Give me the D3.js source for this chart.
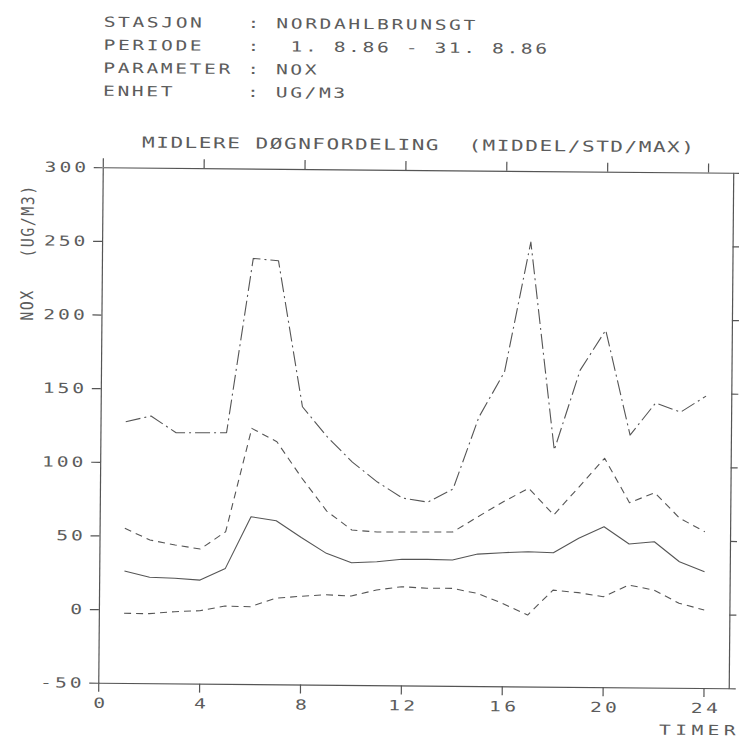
<!DOCTYPE html>
<html>
<head>
<meta charset="utf-8">
<script src="https://cdn.jsdelivr.net/npm/d3@7"></script>
<style>
  html, body { margin: 0; padding: 0; background: #fff; }
  svg { display: block; }
</style>
</head>
<body>
<svg id="chart" width="739" height="740"></svg>
<script>
// Hour of day (1..24) and the hourly NOx statistics in ug/m3
const timer = [1, 2, 3, 4, 5, 6, 7, 8, 9, 10, 11, 12, 13, 14, 15, 16, 17, 18, 19, 20, 21, 22, 23, 24];
const maks = [127.4, 131.4, 120.2, 120.3, 120.5, 239.0, 237.6, 138.6, 118.2, 101.3, 87.9, 77.2,
              74.6, 83.6, 132.6, 163.4, 251.8, 110.7, 165.1, 192.4, 121.3, 143.2, 137.2, 148.2];
const middelPlussStd = [55.0, 47.2, 44.0, 41.4, 53.3, 123.6, 114.7, 90.2, 67.9, 55.2, 54.0, 54.1,
                        54.3, 54.4, 65.0, 75.3, 84.6, 66.6, 85.9, 105.4, 75.4, 82.3, 65.1, 56.1];
const middel = [26.0, 21.9, 21.4, 20.3, 28.4, 63.6, 61.0, 49.8, 39.2, 33.0, 33.8, 35.6,
                35.7, 35.4, 39.6, 40.7, 41.5, 41.0, 50.9, 58.9, 47.3, 49.0, 35.6, 29.0];
const middelMinusStd = [-2.7, -2.8, -1.3, -0.5, 2.8, 2.5, 8.4, 9.9, 11.1, 10.4, 14.6, 17.0,
                        16.1, 16.2, 12.9, 6.3, -1.5, 15.6, 14.0, 11.4, 19.5, 16.2, 7.4, 3.0];

// Axis ticks and labels
const xTicks = [0, 4, 8, 12, 16, 20, 24];
const yTicks = [-50, 0, 50, 100, 150, 200, 250, 300];
const headerLabels = ["STASJON", "PERIODE", "PARAMETER", "ENHET"];
const headerValues = ["NORDAHLBRUNSGT", " 1. 8.86 - 31. 8.86", "NOX", "UG/M3"];
const title = "MIDLERE DØGNFORDELING  (MIDDEL/STD/MAX)";
const yTitle = "NOX   (UG/M3)";
const xTitle = "TIMER";

const ink = "#555";
const textInk = "#5c5c5c";
const svg = d3.select("#chart");
svg.append("rect").attr("width", 739).attr("height", 740).attr("fill", "#fff");

// the plotter sheet sits very slightly turned
const root = svg.append("g").attr("transform", "rotate(0.5 415 427)");

const plot = { left: 100.5, right: 731, top: 170, bottom: 685.5 };
const x = d3.scaleLinear().domain([0, 25]).range([plot.left, plot.right]);
const y = d3.scaleLinear().domain([-50, 300]).range([plot.bottom, plot.top]);

// Monospaced plotter lettering with a fixed character pitch
function plotText(parent, str, pos, baseline, opts = {}) {
  const size = opts.size || 14, sx = opts.sx || 1.4, pitch = opts.pitch || 14.4;
  const align = opts.align || "left", rot = opts.rotate || 0;
  const ls = pitch / sx - 0.602 * size;
  const glyph = 0.47 * size * sx;
  const bear = (0.602 - 0.47) / 2 * size * sx;
  const span = (str.length - 1) * pitch + glyph;
  let start;
  if (align === "left") start = pos - bear;
  else if (align === "center") start = pos - span / 2 - bear;
  else start = pos - span - bear;
  let tr;
  if (rot === -90) tr = `translate(${baseline},${start}) rotate(-90) scale(${sx},1)`;
  else tr = `translate(${start},${baseline}) scale(${sx},1)`;
  return parent.append("text")
    .attr("transform", tr)
    .attr("font-family", "DejaVu Sans Mono")
    .attr("font-size", size)
    .attr("letter-spacing", ls)
    .attr("fill", textInk)
    .style("white-space", "pre")
    .text(str);
}

// header block
headerLabels.forEach((lab, i) => {
  const line = lab.padEnd(10, " ") + ": " + headerValues[i];
  plotText(root, line, 101.5, 29.5 + 23 * i);
});

// chart title
plotText(root, title, 141, 150, { pitch: 14.2, size: 15 });

// axes: frame with outward ticks on all four sides
function styleAxis(g) {
  g.selectAll("path, line").attr("stroke", ink).attr("stroke-width", 1.2);
  g.selectAll("text").remove();
}
root.append("g").attr("transform", `translate(${plot.left},0)`)
  .call(d3.axisLeft(y).tickValues(yTicks).tickSize(9).tickSizeOuter(0).tickFormat(""))
  .call(styleAxis);
root.append("g").attr("transform", `translate(${plot.right},0)`)
  .call(d3.axisRight(y).tickValues(yTicks).tickSize(7).tickSizeOuter(0).tickFormat(""))
  .call(styleAxis);
root.append("g").attr("transform", `translate(0,${plot.bottom})`)
  .call(d3.axisBottom(x).tickValues(xTicks).tickSize(9).tickSizeOuter(0).tickFormat(""))
  .call(styleAxis);
root.append("g").attr("transform", `translate(0,${plot.top})`)
  .call(d3.axisTop(x).tickValues(xTicks).tickSize(9).tickSizeOuter(0).tickFormat(""))
  .call(styleAxis);

// tick labels
yTicks.forEach(v => plotText(root, String(v), 82.5, y(v) + 5.1, { align: "right", pitch: 14.8 }));
xTicks.forEach(v => plotText(root, String(v), x(v) + 1, 710.5, { align: "center", pitch: 15.2 }));

// axis titles: hours along the bottom, tall narrow lettering up the left side
plotText(root, xTitle, 737, 732.5, { align: "right", pitch: 16.2 });
plotText(root, yTitle, 325, 32, { rotate: -90, pitch: 10.5, size: 17.5, sx: 0.85 });

// series: maximum (dash-dot), mean +/- std (dashed), mean (solid)
const series = [
  { values: maks, dash: "15,4,2,4" },
  { values: middelPlussStd, dash: "7,5" },
  { values: middel, dash: null },
  { values: middelMinusStd, dash: "7,5" }
];
const line = d3.line().x((d, i) => x(timer[i])).y(d => y(d));
series.forEach(s => {
  root.append("path")
    .datum(s.values)
    .attr("d", line)
    .attr("fill", "none")
    .attr("stroke", ink)
    .attr("stroke-width", 1.1)
    .attr("stroke-linejoin", "round")
    .attr("stroke-dasharray", s.dash);
});
</script>
</body>
</html>
